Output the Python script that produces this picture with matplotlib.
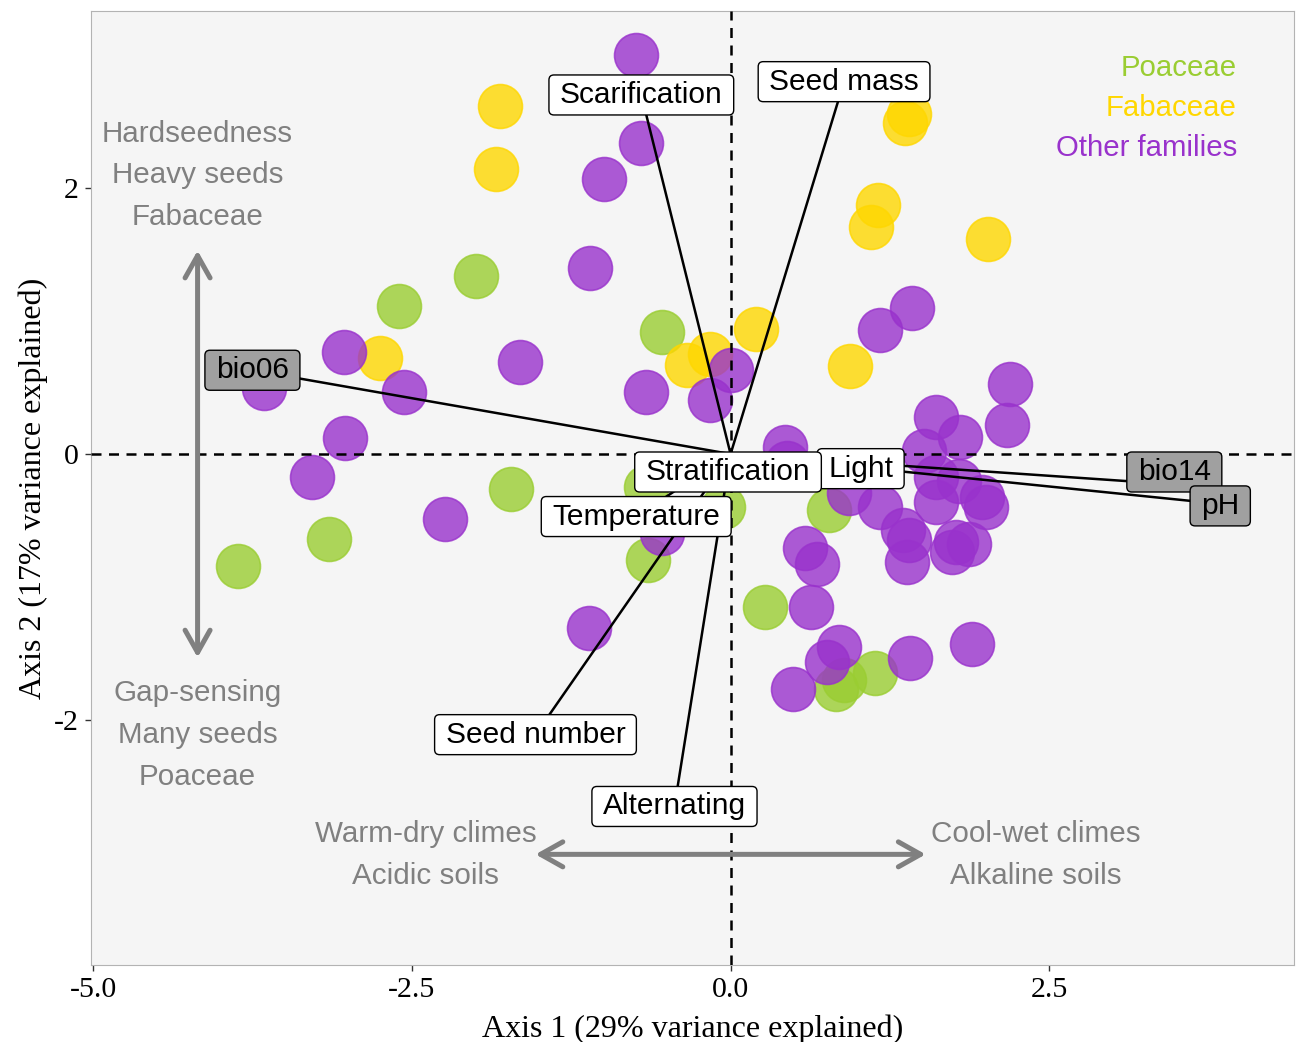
import numpy as np
import matplotlib

matplotlib.use("Agg")
import matplotlib.pyplot as plt
from matplotlib.patches import FancyArrowPatch, FancyBboxPatch
from matplotlib.transforms import IdentityTransform

plt.rcParams["axes.unicode_minus"] = False

# species scores on the two PCA axes, by family
poaceae_x = [-2.00, -2.60, -0.54, -1.72, -3.15, -3.86, -0.65, -0.66, -0.06, 0.77, 0.27, 0.89, 0.83, 1.13]
poaceae_y = [1.34, 1.11, 0.92, -0.26, -0.64, -0.84, -0.80, -0.25, -0.40, -0.42, -1.15, -1.70, -1.77, -1.65]

fabaceae_x = [-1.81, -1.84, -2.75, 1.40, 1.37, 1.16, 1.10, 2.02, 0.20, 0.94, -0.34, -0.16]
fabaceae_y = [2.62, 2.14, 0.72, 2.56, 2.49, 1.87, 1.71, 1.62, 0.94, 0.66, 0.67, 0.75]

other_x = [-0.74, -0.70, -0.99, -1.10, -1.65, -3.03, -3.66, -2.56, -3.02, -3.28, -2.24,
           -0.66, -0.16, 0.00, -1.11, -0.54, 0.43, 0.44,
           1.17, 1.42, 2.19, 2.17, 1.61, 1.80,
           1.52, 1.61, 1.79, 1.97, 2.00, 1.61, 1.17, 0.93, 1.35, 1.40, 1.38, 1.74, 1.77, 1.87,
           0.58, 0.68, 0.63, 0.85, 0.76, 0.49, 1.41, 1.89]
other_y = [3.00, 2.34, 2.07, 1.40, 0.69, 0.77, 0.50, 0.47, 0.12, -0.17, -0.49,
           0.47, 0.41, 0.63, -1.31, -0.59, 0.05, -0.07,
           0.93, 1.10, 0.53, 0.22, 0.28, 0.13,
           0.02, -0.17, -0.20, -0.32, -0.40, -0.36, -0.40, -0.29, -0.57, -0.65, -0.81, -0.74, -0.66, -0.68,
           -0.71, -0.83, -1.15, -1.45, -1.56, -1.77, -1.53, -1.43]

# trait / environment vectors
var_names = ["Scarification", "Seed mass", "bio06", "Light", "Stratification", "bio14", "pH",
             "Temperature", "Seed number", "Alternating"]
var_tip_x = [-0.70, 0.89, -3.75, 1.02, -0.02, 3.36, 3.79, -0.74, -1.53, -0.44]
var_tip_y = [2.70, 2.80, 0.63, -0.11, -0.135, -0.22, -0.37, -0.47, -2.11, -2.65]
label_x = [-0.70, 0.89, -3.75, 1.02, -0.02, 3.48, 3.84, -0.74, -1.53, -0.44]
label_y = [2.70, 2.80, 0.63, -0.11, -0.135, -0.135, -0.39, -0.47, -2.11, -2.65]
env_vars = ["bio06", "bio14", "pH"]

families = ["Poaceae", "Fabaceae", "Other families"]
fam_colors = ["#9ACD32", "#FFD700", "#9932CC"]

sans = "Liberation Sans"
serif = "Liberation Serif"
grey = "#808080"

fig = plt.figure(figsize=(12.96, 10.42), dpi=100)
ax = fig.add_axes([0.0702, 0.0739, 0.9283, 0.9155])
ax.set_facecolor("#f5f5f5")
ax.set_xlim(-5.016, 4.419)
ax.set_ylim(-3.842, 3.331)

for xs, ys, c in [(poaceae_x, poaceae_y, fam_colors[0]),
                  (fabaceae_x, fabaceae_y, fam_colors[1]),
                  (other_x, other_y, fam_colors[2])]:
    ax.scatter(xs, ys, s=1000, color=c, alpha=0.8, edgecolors=c, linewidths=1.2, zorder=2)

ax.axhline(0, color="black", lw=1.8, ls=(0, (4, 3)), zorder=3)
ax.axvline(0, color="black", lw=1.8, ls=(0, (4, 3)), zorder=3)

for tx, ty in zip(var_tip_x, var_tip_y):
    ax.plot([0, tx], [0, ty], color="black", lw=1.8, zorder=4)

# interpretation arrows
arrow_kw = dict(arrowstyle="<->,head_length=0.8,head_width=0.45", color=grey, lw=3.6,
                mutation_scale=20, shrinkA=0, shrinkB=0, zorder=3)
ax.add_patch(FancyArrowPatch((-4.18, 1.53), (-4.18, -1.53), **arrow_kw))
ax.add_patch(FancyArrowPatch((-1.53, -3.01), (1.53, -3.01), **arrow_kw))

txt_kw = dict(family=sans, fontsize=21.3, color=grey, ha="center", va="center")
for t, yy in zip(["Hardseedness", "Heavy seeds", "Fabaceae"], [2.41, 2.10, 1.78]):
    ax.text(-4.18, yy, t, **txt_kw)
for t, yy in zip(["Gap-sensing", "Many seeds", "Poaceae"], [-1.80, -2.11, -2.43]):
    ax.text(-4.18, yy, t, **txt_kw)
for t, yy in zip(["Warm-dry climes", "Acidic soils"], [-2.86, -3.17]):
    ax.text(-2.39, yy, t, **txt_kw)
for t, yy in zip(["Cool-wet climes", "Alkaline soils"], [-2.86, -3.17]):
    ax.text(2.39, yy, t, **txt_kw)

# family legend as coloured text
for fam, c, yy in zip(families, fam_colors, [2.90, 2.60, 2.30]):
    ax.text(3.97, yy, fam, family=sans, fontsize=21.2, color=c, ha="right", va="center")

ax.set_xticks([-5.0, -2.5, 0.0, 2.5])
ax.set_xticklabels(["-5.0", "-2.5", "0.0", "2.5"])
ax.set_yticks([-2, 0, 2])
ax.set_yticklabels(["-2", "0", "2"])
ax.tick_params(length=4, width=1, color="#333333", labelsize=21.5, pad=5)
for lab in ax.get_xticklabels() + ax.get_yticklabels():
    lab.set_family(serif)
for sp in ax.spines.values():
    sp.set_color("#b3b3b3")
    sp.set_linewidth(0.8)

ax.set_xlabel("Axis 1 (29% variance explained)", family=serif, fontsize=23, labelpad=8)
ax.set_ylabel("Axis 2 (17% variance explained)", family=serif, fontsize=23, labelpad=4)

# vector labels with ggrepel-style boxes (wider than tall padding)
label_texts = []
for i, name in enumerate(var_names):
    t = ax.text(label_x[i], label_y[i], name, family=sans, fontsize=21.5, ha="center", va="center",
                zorder=6 + 2 * i)
    label_texts.append(t)

fig.canvas.draw()
renderer = fig.canvas.get_renderer()
for i, t in enumerate(label_texts):
    bb = t.get_window_extent(renderer)
    cx, cy = (bb.x0 + bb.x1) / 2, (bb.y0 + bb.y1) / 2
    w, h = bb.width + 22, 40
    fc = "#a0a0a0" if var_names[i] in env_vars else "white"
    box = FancyBboxPatch((cx - w / 2, cy - h / 2), w, h,
                         boxstyle="round,pad=0,rounding_size=5",
                         fc=fc, ec="black", lw=1.0, transform=IdentityTransform(),
                         zorder=5 + 2 * i)
    ax.add_patch(box)

fig.savefig("out.png", dpi=100)
